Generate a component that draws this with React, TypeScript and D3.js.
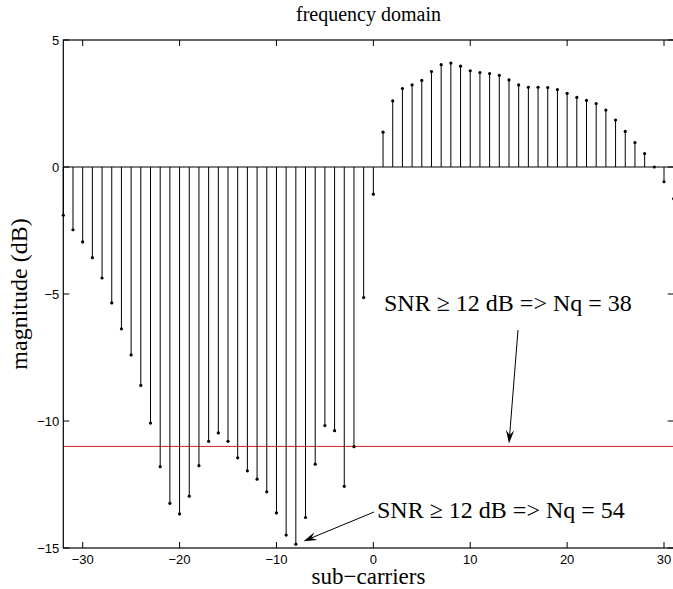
import React from "react";
import * as d3 from "d3";

const subcarriers = d3.range(-32, 32);
const magnitude = [
  -1.9, -2.47, -2.95, -3.57, -4.37, -5.35, -6.37, -7.4, -8.6, -10.08,
  -11.8, -13.24, -13.66, -12.96, -11.76, -10.8, -10.47, -10.8, -11.45, -11.96,
  -12.29, -12.79, -13.62, -14.49, -14.85, -13.8, -11.7, -10.18, -10.38, -12.57,
  -11.01, -5.14, -1.07,
  1.37, 2.6, 3.09, 3.23, 3.41, 3.76, 4.03, 4.09, 3.97, 3.79,
  3.72, 3.68, 3.61, 3.43, 3.23, 3.14, 3.14, 3.13, 3.05, 2.9,
  2.74, 2.62, 2.5, 2.24, 1.85, 1.4, 0.96, 0.53, 0.0, -0.58, -1.25,
];
const xTicks = [-30, -20, -10, 0, 10, 20, 30];
const yTicks = [-15, -10, -5, 0, 5];
const threshold = -11;
const annotation1 = { text: "SNR \u2265 12 dB => Nq = 38", ax: 14, ay: -11 };
const annotation2 = { text: "SNR \u2265 12 dB => Nq = 54", ax: -7.2, ay: -14.85 };

const W = 673;
const H = 589;
const L = 63.3;
const R = 673.7;
const T = 40;
const B = 548;

export default function App() {
  const x = d3.scaleLinear().domain([-32, 31]).range([L, R]);
  const y = d3.scaleLinear().domain([-15, 5]).range([B, T]);
  const fmt = (v: number) => (v < 0 ? "\u2212" + Math.abs(v) : String(v));
  const serif = "'Liberation Serif', 'Times New Roman', serif";
  const sans = "'Liberation Sans', Arial, sans-serif";

  const arrow = (x1: number, y1: number, x2: number, y2: number) => {
    const ang = Math.atan2(y2 - y1, x2 - x1);
    const len = 14;
    const spread = 0.3;
    const p1 = [x2 - len * Math.cos(ang - spread), y2 - len * Math.sin(ang - spread)];
    const p2 = [x2 - len * Math.cos(ang + spread), y2 - len * Math.sin(ang + spread)];
    const pm = [x2 - len * 0.6 * Math.cos(ang), y2 - len * 0.6 * Math.sin(ang)];
    return (
      <g>
        <line x1={x1} y1={y1} x2={pm[0]} y2={pm[1]} stroke="#000" strokeWidth={1} />
        <path d={`M${p1[0]},${p1[1]} L${x2},${y2} L${p2[0]},${p2[1]} L${pm[0]},${pm[1]} Z`} fill="#000" />
      </g>
    );
  };

  return (
    <svg width={W} height={H} style={{ position: "absolute", left: 0, top: 0, background: "#fff" }}>
      <rect x={0} y={0} width={W} height={H} fill="#fff" />
      <line x1={L} x2={R} y1={y(0)} y2={y(0)} stroke="#000" strokeWidth={1} />
      <line x1={L} x2={R} y1={y(threshold)} y2={y(threshold)} stroke="#d42020" strokeWidth={1} />
      {subcarriers.map((s, i) => (
        <g key={s}>
          <line x1={x(s)} x2={x(s)} y1={y(0)} y2={y(magnitude[i])} stroke="#000" strokeWidth={1} />
          <circle cx={x(s)} cy={y(magnitude[i])} r={1.6} fill="#000" />
        </g>
      ))}
      <rect x={L} y={T} width={R - L} height={B - T} fill="none" stroke="#000" strokeWidth={1.2} />
      {xTicks.map((t) => (
        <g key={t}>
          <line x1={x(t)} x2={x(t)} y1={B} y2={B - 6} stroke="#000" />
          <line x1={x(t)} x2={x(t)} y1={T} y2={T + 6} stroke="#000" />
          <text x={x(t)} y={B + 16} fontFamily={sans} fontSize={13} textAnchor="middle">{fmt(t)}</text>
        </g>
      ))}
      {yTicks.map((t) => (
        <g key={t}>
          <line x1={L} x2={L + 6} y1={y(t)} y2={y(t)} stroke="#000" />
          <line x1={R} x2={R - 6} y1={y(t)} y2={y(t)} stroke="#000" />
          <text x={L - 4} y={y(t) + 4.5} fontFamily={sans} fontSize={13} textAnchor="end">{fmt(t)}</text>
        </g>
      ))}
      <text x={384} y={311} fontFamily={serif} fontSize={24} textAnchor="start">{annotation1.text}</text>
      {arrow(518, 330, x(annotation1.ax), y(annotation1.ay) - 3)}
      <text x={377} y={518} fontFamily={serif} fontSize={24} textAnchor="start">{annotation2.text}</text>
      {arrow(374, 512, x(annotation2.ax), y(annotation2.ay) - 3)}
      <text x={(L + R) / 2} y={21} fontFamily={serif} fontSize={20} textAnchor="middle">frequency domain</text>
      <text x={(L + R) / 2} y={584} fontFamily={serif} fontSize={23} textAnchor="middle">sub{"\u2212"}carriers</text>
      <text transform={`translate(27, ${(T + B) / 2}) rotate(-90)`} fontFamily={serif} fontSize={24} textAnchor="middle">magnitude (dB)</text>
    </svg>
  );
}
